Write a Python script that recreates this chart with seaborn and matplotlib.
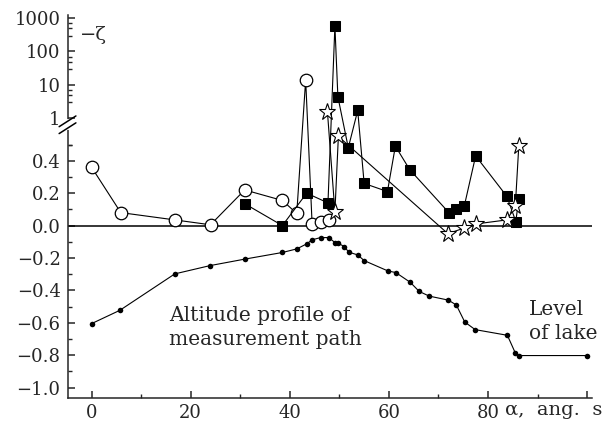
import numpy as np
import matplotlib
matplotlib.use("Agg")
import matplotlib.pyplot as plt
import seaborn as sns

# open circles
circ_x = [0, 5.9, 16.8, 24.0, 30.9, 38.5, 41.4, 43.2, 44.5, 46.2, 47.9]
circ_y = [0.36, 0.08, 0.035, 0.005, 0.22, 0.155, 0.075, 14, 0.01, 0.02, 0.035]

# filled squares
sq_x = [30.9, 38.5, 43.4, 47.7, 49.1, 49.7, 51.8, 53.7, 55.0, 59.7, 61.3,
        64.2, 72.1, 73.6, 75.2, 77.5, 83.8, 85.6, 86.2]
sq_y = [0.135, 0.0, 0.2, 0.14, 590, 4.4, 0.48, 1.7, 0.26, 0.21, 0.49,
        0.345, 0.08, 0.1, 0.12, 0.43, 0.18, 0.025, 0.165]

# open stars
star_x = [47.6, 49.1, 49.8, 71.9, 75.2, 77.5, 83.8, 85.5, 86.2]
star_y = [1.5, 0.085, 0.55, -0.05, -0.015, 0.01, 0.035, 0.12, 0.49]

# altitude profile of the path (small dots)
alt_x = [0, 5.7, 16.8, 23.9, 30.9, 38.5, 41.4, 43.4, 44.5, 46.2, 47.9, 49.1,
         49.8, 51.0, 51.9, 53.7, 55.0, 59.8, 61.4, 64.3, 66.1, 68.1, 72.0,
         73.6, 75.3, 77.4, 83.9, 85.5, 86.3, 100]
alt_y = [-0.605, -0.523, -0.298, -0.247, -0.207, -0.166, -0.144, -0.113,
         -0.088, -0.074, -0.074, -0.105, -0.109, -0.13, -0.164, -0.181,
         -0.216, -0.28, -0.29, -0.35, -0.406, -0.435, -0.46, -0.49, -0.595,
         -0.642, -0.677, -0.786, -0.802, -0.802]

x_ticks = [0, 20, 40, 60, 80, 100]
x_labels = ["0", "20", "40", "60", "80", ""]
y_ticks = [-1.0, -0.8, -0.6, -0.4, -0.2, 0.0, 0.2, 0.4, 1, 10, 100, 1000]
y_labels = ["\u22121.0", "\u22120.8", "\u22120.6", "\u22120.4", "\u22120.2",
            "0.0", "0.2", "0.4", "1", "10", "100", "1000"]

# broken axis: linear below B0, log10 above 1
B0, U1, DEC = 0.6, 0.663, 0.2056


def fwd(y):
    y = np.asarray(y, dtype=float)
    mid = B0 + (y - B0) / (1 - B0) * (U1 - B0)
    lg = U1 + DEC * np.log10(np.clip(y, 1e-12, None))
    return np.where(y <= B0, y, np.where(y < 1, mid, lg))


def inv(u):
    u = np.asarray(u, dtype=float)
    mid = B0 + (u - B0) / (U1 - B0) * (1 - B0)
    lg = 10 ** np.clip((u - U1) / DEC, -30, 30)
    return np.where(u <= B0, u, np.where(u < U1, mid, lg))


sns.set_style("ticks")
plt.rcParams["font.family"] = ["DejaVu Serif"]
plt.rcParams["font.size"] = 13

fig = plt.figure(figsize=(6.1, 4.21), dpi=100)
ax = fig.add_axes([0.1107, 0.0546, 0.860, 0.910])
ax.set_yscale("function", functions=(fwd, inv))

ax.axhline(0, color="black", lw=1.1, zorder=1)

sns.lineplot(x=alt_x, y=alt_y, ax=ax, sort=False, estimator=None,
             color="black", lw=0.8, marker="o", markersize=4,
             markeredgewidth=0, zorder=2)
sns.lineplot(x=circ_x, y=circ_y, ax=ax, sort=False, estimator=None,
             color="black", lw=0.8, marker="o", markersize=9,
             markerfacecolor="white", markeredgecolor="black",
             markeredgewidth=0.9, zorder=3)
sns.lineplot(x=sq_x, y=sq_y, ax=ax, sort=False, estimator=None,
             color="black", lw=0.8, marker="s", markersize=7.5,
             markerfacecolor="black", markeredgecolor="black", zorder=4)
sns.lineplot(x=star_x, y=star_y, ax=ax, sort=False, estimator=None,
             color="black", lw=0.8, marker="*", markersize=12.5,
             markerfacecolor="white", markeredgecolor="black",
             markeredgewidth=0.8, zorder=5)

ax.set_xlim(-4.85, 101)
ax.set_ylim(float(inv(-1.064)), float(inv(1.30)))

ax.set_xticks(x_ticks)
ax.set_xticklabels(x_labels)
ax.set_xticks(np.arange(10, 100, 20), minor=True)
ax.set_yticks(y_ticks)
ax.set_yticklabels(y_labels)
minor_y = list(np.round(np.arange(-0.9, 0.51, 0.2), 2)) + [0.5]
for dec in [1, 10, 100]:
    minor_y += [dec * s for s in (3, 5, 7)]
ax.set_yticks(minor_y, minor=True)

ax.tick_params(which="major", direction="in", length=5, width=1.1, pad=5)
ax.tick_params(which="minor", direction="in", length=3, width=1.0)
ax.tick_params(axis="x", pad=4)
sns.despine(ax=ax)
for s in ("left", "bottom"):
    ax.spines[s].set_linewidth(1.1)
ax.set_xlabel("")
ax.set_ylabel("")

# break marks on the y axis
yb = (0.615 + 1.064) / 2.364
ax.plot([0, 0], [yb - 0.006, yb + 0.012], transform=ax.transAxes,
        color="white", lw=3, clip_on=False, zorder=6)
for off in (-0.006, 0.012):
    ax.plot([-0.016, 0.016], [yb + off - 0.014, yb + off + 0.014],
            transform=ax.transAxes, color="black", lw=1.1,
            clip_on=False, zorder=7)

ax.text(0.024, 0.948, "\u2212\u03b6", transform=ax.transAxes,
        ha="left", va="center", fontsize=14)
ax.text(0.834, -0.031, "\u03b1,  ang.  s", transform=ax.transAxes,
        ha="left", va="center", fontsize=14)
ax.text(15.6, -0.63, "Altitude profile of\nmeasurement path",
        ha="left", va="center", linespacing=1.35, fontsize=14.5)
ax.text(88.2, -0.59, "Level\nof lake", ha="left", va="center",
        linespacing=1.35, fontsize=14.5)

fig.savefig("out.png", dpi=100)
